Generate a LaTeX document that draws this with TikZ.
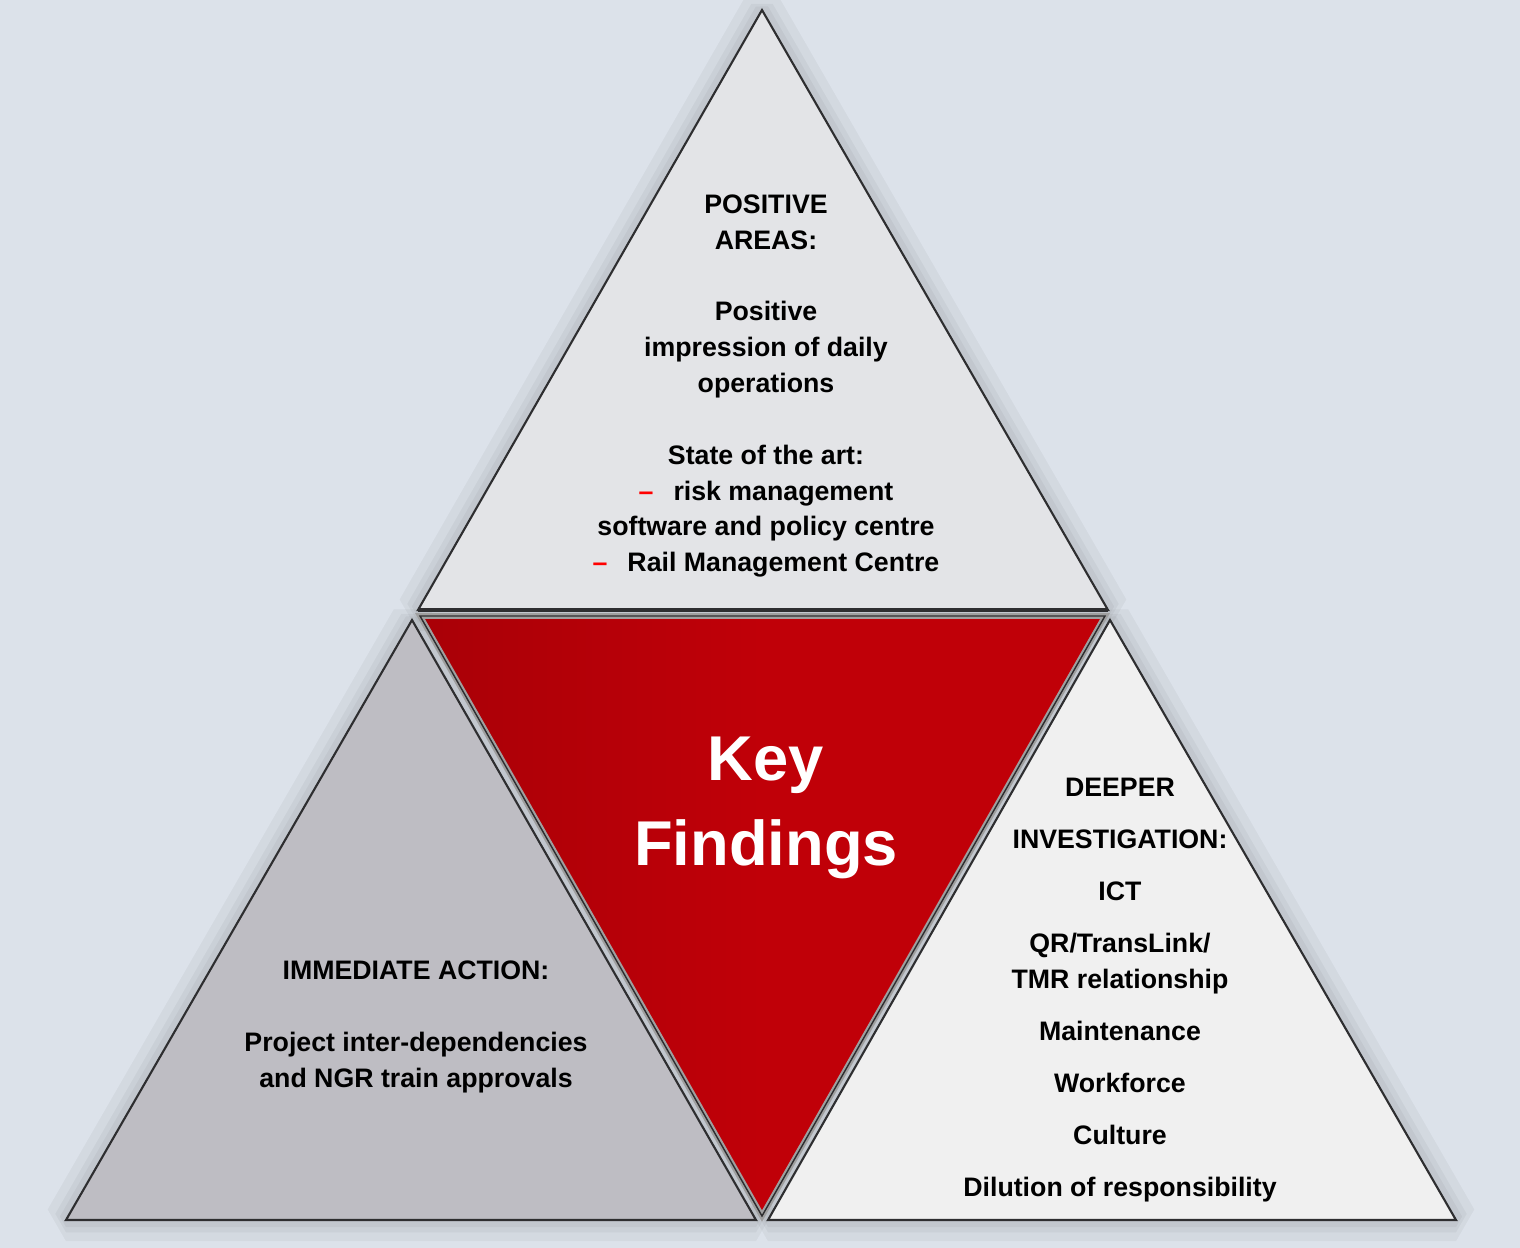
\documentclass[tikz,border=0pt]{standalone}
\usepackage{fontspec}
\setmainfont{Liberation Sans}
\usepackage{tikz}
\usetikzlibrary{positioning}
\definecolor{bgblue}{HTML}{DCE2EA}
\definecolor{topgray}{HTML}{E3E4E7}
\definecolor{leftgray}{HTML}{BEBDC3}
\definecolor{rightgray}{HTML}{F0F0F0}
\definecolor{keyred}{HTML}{C00008}
\definecolor{edgegray}{HTML}{2E2E30}

\begin{document}
\begin{tikzpicture}[x=0.01cm,y=-0.01cm,
  every node/.style={font=\fontsize{7.6}{10.2}\selectfont\bfseries,align=center,text=black},
  halo/.style={draw=black,line join=bevel,opacity=0.04},
  facet/.style={draw=edgegray,line width=0.6pt,line join=miter}]
\fill[bgblue] (0,0) rectangle (1520,1248);
\useasboundingbox (0,0) rectangle (1520,1248);
% corners
\coordinate (t0) at (762,10);
\coordinate (t1) at (1108,610);
\coordinate (t2) at (418,610);
\coordinate (l0) at (412,620);
\coordinate (l1) at (756,1220);
\coordinate (l2) at (66,1220);
\coordinate (r0) at (1110,620);
\coordinate (r1) at (1456,1220);
\coordinate (r2) at (768,1220);
\coordinate (k0) at (420,616);
\coordinate (k1) at (1105,616);
\coordinate (k2) at (762,1216);
% soft shadows
\foreach \w in {12,7,4}{
  \draw[halo,line width=\w] (t0)--(t1)--(t2)--cycle;
  \draw[halo,line width=\w] (l0)--(l1)--(l2)--cycle;
  \draw[halo,line width=\w] (r0)--(r1)--(r2)--cycle;
}
\fill[topgray,facet] (t0)--(t1)--(t2)--cycle;
\fill[leftgray,facet] (l0)--(l1)--(l2)--cycle;
\fill[rightgray,facet] (r0)--(r1)--(r2)--cycle;
\draw[edgegray,line width=1.3pt] (t2)--(t1);
\shade[left color=keyred!88!black,right color=keyred,middle color=keyred]
  (k0)--(k1)--(k2)--cycle;
\draw[gray!75,line width=1.6pt,line join=miter] (k0)--(k1)--(k2)--cycle;
\draw[edgegray,line width=0.4pt,line join=miter] (k0)--(k1)--(k2)--cycle;
% texts
\node (postext) at (766,386) {POSITIVE\\AREAS:\\[10.2pt]
  Positive\\impression of daily\\operations\\[10.2pt]
  State of the art:\\
  {\color{red}–}\hspace{0.2cm}risk management\\
  software and policy centre\\
  {\color{red}–}\hspace{0.2cm}Rail Management Centre};
\node (actiontext) at (416,1027) {IMMEDIATE ACTION:\\[10.2pt]
  Project inter-dependencies\\and NGR train approvals};
\node (deepertext) at (1120,990) {DEEPER\\[4.6pt]INVESTIGATION:\\[4.6pt]ICT\\[4.6pt]
  QR/TransLink/\\TMR relationship\\[4.6pt]Maintenance\\[4.6pt]
  Workforce\\[4.6pt]Culture\\[4.6pt]Dilution of responsibility};
\node[font=\fontsize{18}{24}\selectfont\bfseries,text=white] (keytext) at (766,808) {Key\\Findings};
\end{tikzpicture}
\end{document}
